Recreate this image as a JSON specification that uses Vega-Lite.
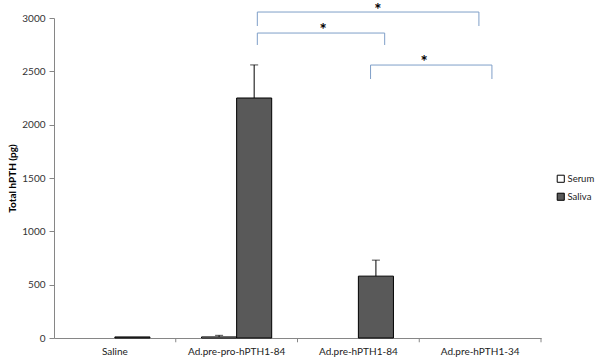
{
  "$schema": "https://vega.github.io/schema/vega-lite/v6.json",
  "width": 487,
  "height": 320,
  "autosize": "none",
  "padding": {"left": 54, "top": 18, "right": 59, "bottom": 25},
  "config": {
    "view": {"stroke": null},
    "font": "Lato",
    "axisY": {"grid": false, "domainColor": "#868686", "tickColor": "#868686", "tickSize": 5, "labelFontSize": 10, "labelColor": "#333333", "values": [0, 500, 1000, 1500, 2000, 2500, 3000], "format": "d", "titleFontSize": 10, "titleFontWeight": "bold", "titleColor": "#000000", "titlePadding": 4, "labelPadding": 4}
  },
  "datasets": {
    "bars": [
      {"group": "Saline", "series": "Saliva", "value": 10},
      {"group": "Ad.pre-pro-hPTH1-84", "series": "Serum", "value": 10, "upper": 25},
      {"group": "Ad.pre-pro-hPTH1-84", "series": "Saliva", "value": 2250, "upper": 2560},
      {"group": "Ad.pre-hPTH1-84", "series": "Saliva", "value": 580, "upper": 730}
    ],
    "brackets": [
      {"x1": 1.67, "x2": 3.49, "ytop": 3056, "ybot": 2925},
      {"x1": 1.67, "x2": 2.716, "ytop": 2859, "ybot": 2747},
      {"x1": 2.60, "x2": 3.597, "ytop": 2559, "ybot": 2428}
    ],
    "stars": [
      {"x": 2.66, "y": 3105},
      {"x": 2.21, "y": 2920},
      {"x": 3.04, "y": 2615}
    ],
    "ticks": [
      {"x": 1, "y": 0, "y2": -40},
      {"x": 2, "y": 0, "y2": -40},
      {"x": 3, "y": 0, "y2": -40},
      {"x": 4, "y": 0, "y2": -40}
    ]
  },
  "layer": [
    {
      "data": {"name": "bars"},
      "encoding": {
        "x": {"field": "group", "type": "nominal", "sort": null,
          "scale": {"domain": ["Saline", "Ad.pre-pro-hPTH1-84", "Ad.pre-hPTH1-84", "Ad.pre-hPTH1-34"], "paddingInner": 0, "paddingOuter": 0},
          "axis": {"title": null, "labelAngle": 0, "ticks": false, "domainColor": "#868686", "labelFontSize": 10, "labelColor": "#222222", "labelPadding": 8}},
        "xOffset": {"field": "series", "type": "nominal", "scale": {"domain": ["Serum", "Saliva"], "paddingInner": 0, "paddingOuter": 0.736}}
      },
      "layer": [
        {
          "mark": {"type": "bar", "stroke": "#000000", "strokeWidth": 1},
          "encoding": {
            "y": {"field": "value", "type": "quantitative", "title": "Total hPTH  (pg)", "scale": {"domain": [0, 3000], "nice": false}},
            "color": {"field": "series", "type": "nominal",
              "scale": {"domain": ["Serum", "Saliva"], "range": ["#ffffff", "#595959"]},
              "legend": {"title": null, "orient": "none", "legendX": 502, "legendY": 156, "symbolType": "square", "symbolStrokeColor": "#000000", "symbolStrokeWidth": 1, "symbolSize": 50, "labelFontSize": 9.5, "labelColor": "#222222", "rowPadding": 6, "labelOffset": 2, "padding": 0}}
          }
        },
        {
          "transform": [{"filter": "datum.upper != null"}],
          "mark": {"type": "rule", "color": "#000000", "strokeWidth": 1},
          "encoding": {
            "y": {"field": "value", "type": "quantitative", "title": "Total hPTH  (pg)", "scale": {"domain": [0, 3000], "nice": false}},
            "y2": {"field": "upper"}
          }
        },
        {
          "transform": [{"filter": "datum.upper != null"}],
          "mark": {"type": "tick", "color": "#000000", "thickness": 1, "size": 8},
          "encoding": {
            "y": {"field": "upper", "type": "quantitative", "title": "Total hPTH  (pg)", "scale": {"domain": [0, 3000], "nice": false}}
          }
        }
      ]
    },
    {
      "layer": [
        {
          "data": {"name": "brackets"},
          "mark": {"type": "rule", "color": "#7f9fc8", "strokeWidth": 1},
          "encoding": {
            "x": {"field": "x1", "type": "quantitative", "scale": {"domain": [0, 4], "nice": false, "zero": false}, "axis": null},
            "x2": {"field": "x2"},
            "y": {"field": "ytop", "type": "quantitative", "title": "Total hPTH  (pg)", "scale": {"domain": [0, 3000], "nice": false}}
          }
        },
        {
          "data": {"name": "brackets"},
          "mark": {"type": "rule", "color": "#7f9fc8", "strokeWidth": 1},
          "encoding": {
            "x": {"field": "x1", "type": "quantitative", "scale": {"domain": [0, 4], "nice": false, "zero": false}, "axis": null},
            "y": {"field": "ytop", "type": "quantitative", "title": "Total hPTH  (pg)", "scale": {"domain": [0, 3000], "nice": false}},
            "y2": {"field": "ybot"}
          }
        },
        {
          "data": {"name": "brackets"},
          "mark": {"type": "rule", "color": "#7f9fc8", "strokeWidth": 1},
          "encoding": {
            "x": {"field": "x2", "type": "quantitative", "scale": {"domain": [0, 4], "nice": false, "zero": false}, "axis": null},
            "y": {"field": "ytop", "type": "quantitative", "title": "Total hPTH  (pg)", "scale": {"domain": [0, 3000], "nice": false}},
            "y2": {"field": "ybot"}
          }
        },
        {
          "data": {"name": "stars"},
          "mark": {"type": "text", "text": "*", "fontSize": 17, "fontWeight": "bold", "color": "#000000", "baseline": "middle", "dy": 4},
          "encoding": {
            "x": {"field": "x", "type": "quantitative", "scale": {"domain": [0, 4], "nice": false, "zero": false}, "axis": null},
            "y": {"field": "y", "type": "quantitative", "title": "Total hPTH  (pg)", "scale": {"domain": [0, 3000], "nice": false}}
          }
        },
        {
          "data": {"name": "ticks"},
          "mark": {"type": "rule", "color": "#868686", "strokeWidth": 1},
          "encoding": {
            "x": {"field": "x", "type": "quantitative", "scale": {"domain": [0, 4], "nice": false, "zero": false}, "axis": null},
            "y": {"field": "y", "type": "quantitative", "title": "Total hPTH  (pg)", "scale": {"domain": [0, 3000], "nice": false}},
            "y2": {"field": "y2"}
          }
        }
      ]
    }
  ],
  "resolve": {"scale": {"x": "independent"}}
}
